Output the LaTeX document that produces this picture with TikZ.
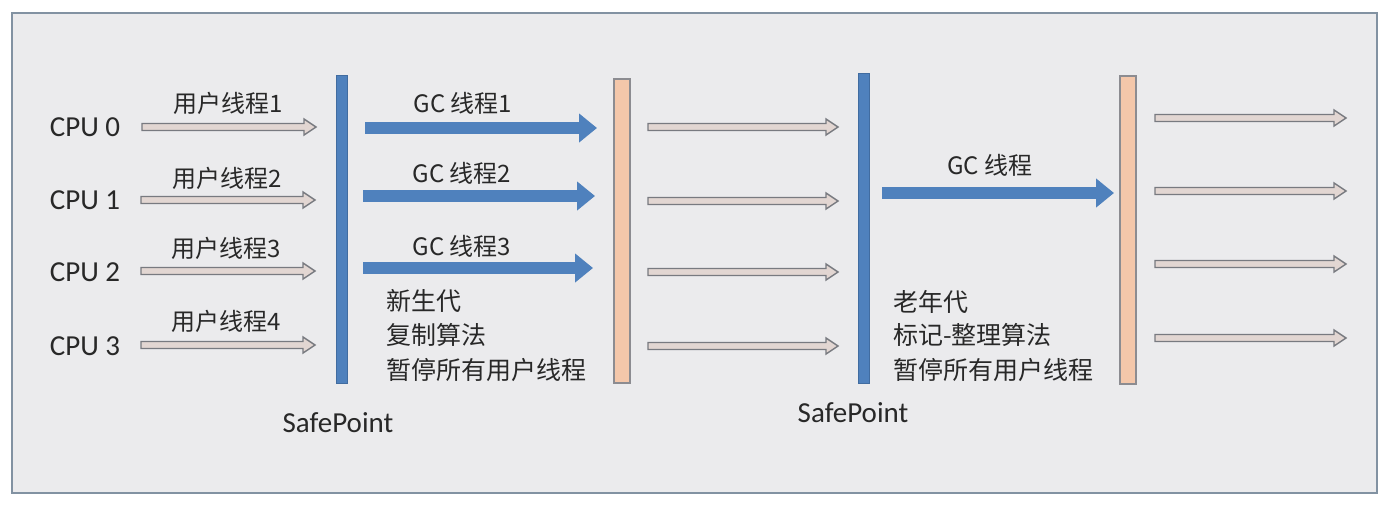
\documentclass[tikz,border=0pt]{standalone}
\usepackage{fontspec}
\setmainfont{Carlito}
\newfontfamily\cjk{Noto Sans CJK SC}
\usetikzlibrary{arrows.meta,calc}
\definecolor{framebg}{RGB}{235,235,237}
\definecolor{frameline}{RGB}{130,146,162}
\definecolor{sfblue}{RGB}{79,129,189}
\definecolor{sfblueline}{RGB}{65,108,160}
\definecolor{peach}{RGB}{244,199,170}
\definecolor{barline}{RGB}{140,140,145}
\definecolor{hollowline}{RGB}{120,122,128}
\definecolor{hollowfill}{RGB}{226,214,210}
\definecolor{txt}{RGB}{40,40,40}
\begin{document}
\begin{tikzpicture}[x=1pt,y=-1pt,
 userarrow/.style={draw=hollowline, fill=hollowfill, line width=1.4pt, line join=miter,
   to path={let \p1=(\tikztostart), \p2=(\tikztotarget) in
     (\x1,\y1+3.5pt) -- (\x2-12pt,\y1+3.5pt) -- (\x2-12pt,\y1+8pt) -- (\x2,\y1)
     -- (\x2-12pt,\y1-8pt) -- (\x2-12pt,\y1-3.5pt) -- (\x1,\y1-3.5pt) -- cycle}},
 gcarrow/.style={draw=sfblue, line width=12pt, -{Triangle[length=18pt,width=28pt]}},
 bluebar/.style={draw=sfblueline, fill=sfblue, line width=0.8pt, minimum width=11pt, inner sep=0pt},
 peachbar/.style={draw=barline, fill=peach, line width=1.5pt, minimum width=16pt, inner sep=0pt},
 cpulbl/.style={font=\fontsize{29}{32}\selectfont, text=txt, inner sep=0pt},
 splbl/.style={font=\fontsize{29}{32}\selectfont, text=txt, inner sep=0pt},
 cjklbl/.style={font=\cjk\fontsize{24}{28}\selectfont, text=txt, inner sep=0pt},
 blocklbl/.style={font=\cjk\fontsize{25}{28}\selectfont, text=txt, inner sep=0pt, anchor=west}
]
\useasboundingbox (0,0) rectangle (1396,512);
\fill[white] (0,0) rectangle (1396,512);
\draw[frameline, fill=framebg, line width=2pt] (12,13) rectangle (1377,493);

% CPU labels
\node[cpulbl] (cpu0) at (85,127) {CPU 0};
\node[cpulbl] (cpu1) at (85,200) {CPU 1};
\node[cpulbl] (cpu2) at (85,272) {CPU 2};
\node[cpulbl] (cpu3) at (85,346) {CPU 3};

% bars
\node[bluebar, minimum height=308pt] (sp1) at (342,229) {};
\node[peachbar, minimum height=304pt] (gc1) at (622,231) {};
\node[bluebar, minimum height=310pt] (sp2) at (864,228) {};
\node[peachbar, minimum height=308pt] (gc2) at (1128,230) {};

\node[splbl] (sp1lbl) at (338,423) {SafePoint};
\node[splbl] (sp2lbl) at (853,413) {SafePoint};

% user threads
\coordinate (u0s) at (142,127); \coordinate (u0e) at (316,127);
\coordinate (u1s) at (141,200); \coordinate (u1e) at (315,200);
\coordinate (u2s) at (141,271); \coordinate (u2e) at (315,271);
\coordinate (u3s) at (141,345); \coordinate (u3e) at (315,345);
\draw[userarrow] (u0s) to (u0e);
\draw[userarrow] (u1s) to (u1e);
\draw[userarrow] (u2s) to (u2e);
\draw[userarrow] (u3s) to (u3e);
\node[cjklbl] (ut1) at (228,103) {用户线程1};
\node[cjklbl] (ut2) at (227,178) {用户线程2};
\node[cjklbl] (ut3) at (226,248) {用户线程3};
\node[cjklbl] (ut4) at (226,321) {用户线程4};

% GC threads (young)
\coordinate (g1s) at (365,128); \coordinate (g1e) at (597,128);
\coordinate (g2s) at (363,196); \coordinate (g2e) at (595,196);
\coordinate (g3s) at (363,268); \coordinate (g3e) at (593,268);
\draw[gcarrow] (g1s) -- (g1e);
\draw[gcarrow] (g2s) -- (g2e);
\draw[gcarrow] (g3s) -- (g3e);
\node[cjklbl] (gt1) at (463,103) {GC 线程1};
\node[cjklbl] (gt2) at (462,173) {GC 线程2};
\node[cjklbl] (gt3) at (462,246) {GC 线程3};

\node[blocklbl] (y1) at (386,301) {新生代};
\node[blocklbl] (y2) at (386,335) {复制算法};
\node[blocklbl] (y3) at (386,370) {暂停所有用户线程};

% middle user threads
\coordinate (m0s) at (648,127); \coordinate (m0e) at (838,127);
\coordinate (m1s) at (648,201); \coordinate (m1e) at (838,201);
\coordinate (m2s) at (648,272); \coordinate (m2e) at (838,272);
\coordinate (m3s) at (648,346); \coordinate (m3e) at (838,346);
\draw[userarrow] (m0s) to (m0e);
\draw[userarrow] (m1s) to (m1e);
\draw[userarrow] (m2s) to (m2e);
\draw[userarrow] (m3s) to (m3e);

% old GC thread
\coordinate (ogs) at (882,193); \coordinate (oge) at (1114,193);
\draw[gcarrow] (ogs) -- (oge);
\node[cjklbl] (ogt) at (990,165) {GC 线程};

\node[blocklbl] (o1) at (893,302) {老年代};
\node[blocklbl] (o2) at (893,335) {标记-整理算法};
\node[blocklbl] (o3) at (893,370) {暂停所有用户线程};

% right user threads
\coordinate (r0s) at (1155,118); \coordinate (r0e) at (1346,118);
\coordinate (r1s) at (1155,191); \coordinate (r1e) at (1346,191);
\coordinate (r2s) at (1155,264); \coordinate (r2e) at (1346,264);
\coordinate (r3s) at (1155,338); \coordinate (r3e) at (1346,338);
\draw[userarrow] (r0s) to (r0e);
\draw[userarrow] (r1s) to (r1e);
\draw[userarrow] (r2s) to (r2e);
\draw[userarrow] (r3s) to (r3e);
\end{tikzpicture}
\end{document}
